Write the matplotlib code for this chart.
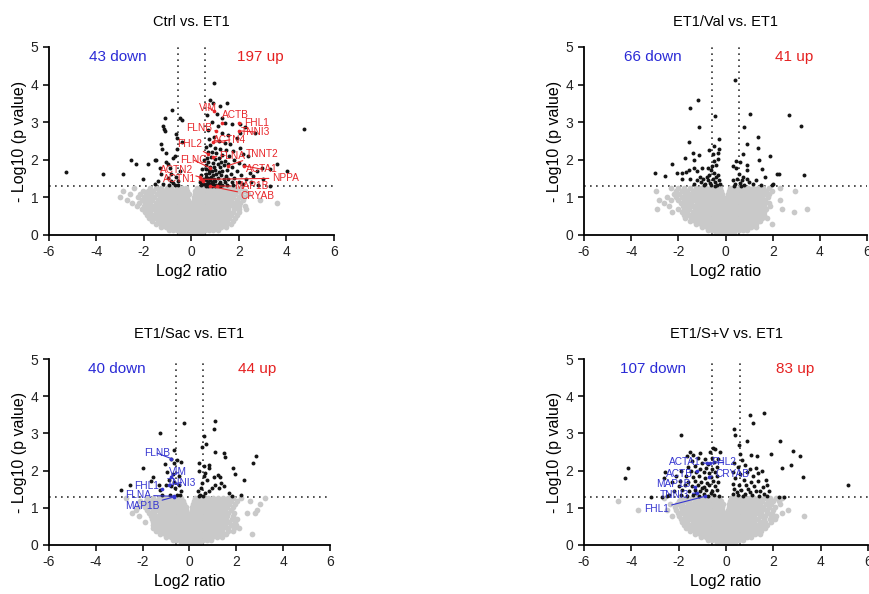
import matplotlib
matplotlib.use('Agg')
import matplotlib.pyplot as plt

# ---------------------------------------------------------------
# data: (log2 ratio, -log10 p)
# grey (not significant) points, written as rows: (y, [x, ...])
# ---------------------------------------------------------------
ctrl_grey = [
    (1.26, [-2.4, -1.75, -1.5, -1.28, -1.05, -0.85, -0.62, -0.42, -0.25, 0.22, 0.4, 0.6, 0.8, 1.0, 1.2, 1.42, 1.62, 1.85, 2.1]),
    (1.18, [-2.9, -2.05, -1.82, -1.6, -1.38, -1.15, -0.95, -0.74, -0.52, -0.33, -0.18, 0.16, 0.31, 0.5, 0.7, 0.9, 1.1, 1.31, 1.52, 1.74, 1.97, 2.25]),
    (1.10, [-2.6, -2.15, -1.92, -1.7, -1.47, -1.25, -1.04, -0.83, -0.62, -0.43, -0.26, -0.12, 0.13, 0.27, 0.44, 0.62, 0.81, 1.0, 1.2, 1.4, 1.62, 1.85, 2.08, 2.4]),
    (1.02, [-3.0, -2.25, -2.0, -1.78, -1.56, -1.34, -1.13, -0.92, -0.71, -0.52, -0.35, -0.2, 0.11, 0.24, 0.39, 0.56, 0.74, 0.93, 1.12, 1.32, 1.53, 1.75, 1.98, 2.2]),
    (0.94, [-2.7, -2.1, -1.87, -1.65, -1.43, -1.22, -1.01, -0.8, -0.6, -0.42, -0.27, -0.13, 0.09, 0.21, 0.35, 0.51, 0.68, 0.86, 1.05, 1.25, 1.46, 1.68, 1.9, 2.15, 2.9]),
    (0.86, [-2.5, -2.2, -1.95, -1.73, -1.51, -1.3, -1.09, -0.88, -0.68, -0.5, -0.34, -0.19, -0.07, 0.08, 0.2, 0.33, 0.48, 0.64, 0.82, 1.01, 1.2, 1.4, 1.62, 1.84, 2.06, 3.6]),
    (0.78, [-2.3, -2.02, -1.8, -1.58, -1.37, -1.16, -0.95, -0.75, -0.56, -0.4, -0.25, -0.12, 0.07, 0.18, 0.31, 0.45, 0.61, 0.78, 0.96, 1.15, 1.35, 1.56, 1.78, 2.0, 2.25]),
    (0.70, [-2.1, -1.88, -1.66, -1.44, -1.23, -1.02, -0.82, -0.63, -0.46, -0.31, -0.17, -0.05, 0.06, 0.17, 0.3, 0.44, 0.6, 0.77, 0.95, 1.14, 1.34, 1.55, 1.77, 1.98, 2.3]),
    (0.62, [-1.95, -1.73, -1.51, -1.3, -1.09, -0.89, -0.7, -0.52, -0.36, -0.22, -0.09, 0.04, 0.16, 0.29, 0.43, 0.59, 0.76, 0.94, 1.13, 1.33, 1.54, 1.76, 1.98]),
    (0.54, [-1.88, -1.66, -1.44, -1.23, -1.02, -0.82, -0.63, -0.46, -0.31, -0.17, -0.04, 0.08, 0.21, 0.35, 0.5, 0.67, 0.85, 1.04, 1.24, 1.45, 1.67, 1.9]),
    (0.46, [-1.8, -1.58, -1.36, -1.15, -0.95, -0.76, -0.58, -0.42, -0.27, -0.13, 0.0, 0.13, 0.27, 0.42, 0.58, 0.76, 0.95, 1.15, 1.36, 1.58, 1.82]),
    (0.38, [-1.65, -1.43, -1.22, -1.02, -0.83, -0.65, -0.48, -0.32, -0.17, -0.03, 0.11, 0.25, 0.4, 0.56, 0.73, 0.91, 1.1, 1.3, 1.51, 1.73]),
    (0.30, [-1.48, -1.27, -1.07, -0.88, -0.7, -0.53, -0.37, -0.22, -0.08, 0.06, 0.2, 0.35, 0.51, 0.68, 0.86, 1.05, 1.25, 1.46, 1.65]),
    (0.22, [-1.28, -1.08, -0.89, -0.71, -0.54, -0.38, -0.23, -0.09, 0.05, 0.19, 0.34, 0.5, 0.67, 0.85, 1.04, 1.24, 1.45]),
    (0.14, [-0.95, -0.77, -0.6, -0.44, -0.29, -0.15, -0.02, 0.11, 0.25, 0.4, 0.56, 0.73, 0.91, 1.1]),
    (0.06, [-0.48, -0.34, -0.21, -0.08, 0.05, 0.18, 0.31, 0.45]),
]

val_grey = [
    (1.26, [-2.3, -2.0, -1.75, -1.5, -1.27, -1.05, -0.84, -0.63, -0.43, -0.25, 0.2, 0.38, 0.57, 0.77, 0.97, 1.17, 1.38, 1.6, 1.85, 2.3]),
    (1.18, [-2.95, -2.1, -1.86, -1.62, -1.4, -1.18, -0.97, -0.76, -0.56, -0.38, -0.2, 0.15, 0.31, 0.49, 0.68, 0.88, 1.08, 1.29, 1.5, 1.72, 1.95, 2.96]),
    (1.10, [-2.2, -1.96, -1.73, -1.5, -1.28, -1.07, -0.86, -0.66, -0.47, -0.3, -0.14, 0.12, 0.27, 0.43, 0.61, 0.8, 0.99, 1.19, 1.4, 1.62, 1.85]),
    (1.02, [-2.5, -2.1, -1.86, -1.63, -1.41, -1.19, -0.98, -0.78, -0.58, -0.4, -0.24, -0.1, 0.1, 0.23, 0.38, 0.55, 0.73, 0.92, 1.12, 1.33, 1.55, 1.78]),
    (0.94, [-2.83, -2.3, -2.0, -1.77, -1.54, -1.32, -1.11, -0.9, -0.7, -0.51, -0.34, -0.19, -0.06, 0.08, 0.2, 0.34, 0.5, 0.67, 0.86, 1.05, 1.25, 1.46, 1.68, 2.31]),
    (0.86, [-2.6, -1.9, -1.67, -1.45, -1.23, -1.02, -0.82, -0.63, -0.45, -0.3, -0.16, -0.04, 0.07, 0.18, 0.31, 0.46, 0.62, 0.8, 0.99, 1.19, 1.4, 1.62, 1.85]),
    (0.78, [-2.4, -1.82, -1.6, -1.38, -1.17, -0.96, -0.76, -0.57, -0.4, -0.26, -0.13, -0.02, 0.09, 0.2, 0.33, 0.48, 0.65, 0.83, 1.02, 1.22, 1.43, 1.65, 1.88]),
    (0.70, [-2.9, -2.0, -1.75, -1.53, -1.31, -1.1, -0.9, -0.71, -0.53, -0.37, -0.23, -0.1, 0.02, 0.13, 0.25, 0.39, 0.55, 0.72, 0.9, 1.09, 1.29, 1.5, 1.72, 2.39, 3.46]),
    (0.62, [-2.26, -1.85, -1.62, -1.4, -1.19, -0.99, -0.8, -0.62, -0.45, -0.3, -0.16, -0.04, 0.08, 0.2, 0.33, 0.48, 0.65, 0.83, 1.02, 1.22, 1.43, 1.65, 2.89]),
    (0.54, [-1.78, -1.55, -1.33, -1.12, -0.92, -0.73, -0.55, -0.39, -0.24, -0.1, 0.03, 0.16, 0.3, 0.45, 0.62, 0.8, 0.99, 1.19, 1.4, 1.62]),
    (0.46, [-1.7, -1.47, -1.25, -1.04, -0.84, -0.65, -0.48, -0.32, -0.17, -0.04, 0.09, 0.23, 0.38, 0.55, 0.73, 0.92, 1.12, 1.33, 1.55, 1.75]),
    (0.38, [-1.5, -1.28, -1.07, -0.87, -0.68, -0.51, -0.35, -0.2, -0.06, 0.08, 0.22, 0.37, 0.53, 0.7, 0.88, 1.07, 1.27, 1.48]),
    (0.30, [-1.25, -1.04, -0.85, -0.67, -0.5, -0.34, -0.19, -0.05, 0.09, 0.23, 0.38, 0.54, 0.71, 0.89, 1.08, 1.28, 1.96]),
    (0.22, [-0.98, -0.8, -0.63, -0.47, -0.32, -0.18, -0.04, 0.1, 0.24, 0.39, 0.55, 0.72, 0.9, 1.1, 1.3]),
    (0.14, [-0.75, -0.59, -0.44, -0.3, -0.16, -0.02, 0.12, 0.26, 0.41, 0.57, 0.74, 0.92]),
    (0.06, [-0.4, -0.27, -0.14, -0.01, 0.12, 0.25, 0.38]),
]

sac_grey = [
    (1.26, [-2.7, -1.8, -1.55, -1.32, -1.1, -0.9, -0.7, -0.52, -0.35, 0.24, 0.42, 0.61, 0.8, 1.0, 1.2, 1.41, 1.63, 1.86, 2.2, 3.24]),
    (1.18, [-2.1, -1.87, -1.64, -1.42, -1.2, -0.99, -0.79, -0.6, -0.43, -0.28, 0.19, 0.35, 0.53, 0.72, 0.92, 1.12, 1.33, 1.55, 1.78, 2.05, 2.6]),
    (1.10, [-2.0, -1.77, -1.54, -1.32, -1.11, -0.9, -0.71, -0.53, -0.37, -0.22, 0.15, 0.3, 0.47, 0.65, 0.84, 1.04, 1.25, 1.47, 1.7, 1.95, 3.0]),
    (1.02, [-2.2, -1.9, -1.67, -1.45, -1.23, -1.02, -0.82, -0.63, -0.46, -0.31, -0.17, 0.12, 0.26, 0.42, 0.6, 0.79, 0.98, 1.18, 1.39, 1.61, 1.85]),
    (0.94, [-2.3, -1.8, -1.57, -1.35, -1.14, -0.93, -0.74, -0.56, -0.4, -0.26, -0.13, 0.1, 0.22, 0.37, 0.54, 0.72, 0.91, 1.1, 1.31, 1.53, 1.76, 2.88]),
    (0.86, [-2.45, -1.72, -1.5, -1.28, -1.07, -0.87, -0.68, -0.51, -0.36, -0.22, -0.09, 0.08, 0.19, 0.33, 0.49, 0.66, 0.84, 1.03, 1.23, 1.44, 1.66, 1.88, 2.45, 2.8]),
    (0.78, [-2.16, -1.65, -1.43, -1.22, -1.01, -0.82, -0.64, -0.47, -0.32, -0.19, -0.07, 0.06, 0.17, 0.3, 0.45, 0.61, 0.79, 0.98, 1.18, 1.39, 1.61, 1.84]),
    (0.70, [-1.6, -1.38, -1.17, -0.97, -0.78, -0.6, -0.44, -0.3, -0.17, -0.05, 0.06, 0.17, 0.3, 0.44, 0.6, 0.77, 0.95, 1.15, 1.36, 1.58, 1.82, 2.05]),
    (0.62, [-1.9, -1.56, -1.34, -1.13, -0.93, -0.75, -0.58, -0.42, -0.28, -0.15, -0.03, 0.09, 0.21, 0.35, 0.5, 0.67, 0.85, 1.04, 1.25, 1.47, 1.7, 1.95]),
    (0.54, [-1.55, -1.33, -1.12, -0.92, -0.73, -0.56, -0.4, -0.26, -0.13, -0.01, 0.11, 0.24, 0.38, 0.54, 0.71, 0.89, 1.09, 1.3, 1.52, 1.76, 2.0]),
    (0.46, [-1.55, -1.33, -1.11, -0.9, -0.71, -0.53, -0.37, -0.22, -0.08, 0.05, 0.18, 0.32, 0.47, 0.64, 0.82, 1.01, 1.21, 1.43, 1.66, 1.9, 2.12]),
    (0.38, [-1.45, -1.23, -1.02, -0.82, -0.63, -0.46, -0.3, -0.15, -0.01, 0.13, 0.28, 0.44, 0.61, 0.79, 0.98, 1.18, 1.4, 1.63, 1.85]),
    (0.30, [-1.25, -1.04, -0.84, -0.65, -0.48, -0.32, -0.17, -0.03, 0.11, 0.26, 0.42, 0.59, 0.77, 0.96, 1.16, 1.37, 1.58, 2.65]),
    (0.22, [-1.0, -0.81, -0.63, -0.46, -0.31, -0.16, -0.02, 0.12, 0.27, 0.43, 0.6, 0.78, 0.97, 1.17, 1.38]),
    (0.14, [-0.72, -0.56, -0.41, -0.27, -0.13, 0.0, 0.13, 0.27, 0.42, 0.58, 0.75, 0.93]),
    (0.06, [-0.35, -0.22, -0.09, 0.04, 0.17, 0.3, 0.43]),
]

sv_grey = [
    (1.26, [-2.6, -1.9, -1.67, -1.45, -1.23, -1.02, -0.82, -0.63, -0.45, -0.28, 0.22, 0.39, 0.58, 0.78, 0.98, 1.18, 1.39, 1.61, 1.84, 2.1, 2.35]),
    (1.18, [-4.57, -2.0, -1.77, -1.55, -1.33, -1.12, -0.92, -0.72, -0.53, -0.36, -0.2, 0.18, 0.33, 0.51, 0.7, 0.9, 1.1, 1.31, 1.53, 1.76, 2.0, 2.25]),
    (1.10, [-2.35, -2.08, -1.85, -1.62, -1.4, -1.19, -0.98, -0.78, -0.59, -0.42, -0.26, -0.12, 0.14, 0.28, 0.45, 0.63, 0.82, 1.02, 1.23, 1.45, 1.68, 1.92, 2.3]),
    (1.02, [-2.15, -1.92, -1.7, -1.48, -1.27, -1.06, -0.86, -0.66, -0.48, -0.32, -0.18, 0.11, 0.24, 0.4, 0.57, 0.75, 0.94, 1.14, 1.35, 1.57, 1.8, 2.05]),
    (0.94, [-3.72, -2.5, -2.1, -1.87, -1.65, -1.43, -1.22, -1.01, -0.81, -0.62, -0.45, -0.3, -0.16, 0.09, 0.21, 0.36, 0.52, 0.7, 0.89, 1.09, 1.3, 1.52, 1.75, 2.0, 2.6]),
    (0.86, [-2.05, -1.82, -1.6, -1.38, -1.17, -0.96, -0.76, -0.58, -0.42, -0.28, -0.15, -0.04, 0.08, 0.19, 0.33, 0.49, 0.67, 0.86, 1.06, 1.27, 1.49, 1.72, 1.96, 2.35]),
    (0.78, [-2.3, -1.98, -1.75, -1.53, -1.32, -1.11, -0.91, -0.72, -0.54, -0.38, -0.24, -0.12, 0.07, 0.17, 0.3, 0.45, 0.62, 0.8, 0.99, 1.2, 1.42, 1.65, 1.88, 2.1, 3.3]),
    (0.70, [-1.92, -1.7, -1.48, -1.27, -1.06, -0.86, -0.67, -0.5, -0.35, -0.21, -0.09, 0.05, 0.15, 0.28, 0.42, 0.58, 0.76, 0.95, 1.15, 1.37, 1.6, 1.84, 2.05]),
    (0.62, [-1.85, -1.63, -1.41, -1.2, -1.0, -0.81, -0.63, -0.46, -0.31, -0.18, -0.06, 0.06, 0.17, 0.3, 0.45, 0.62, 0.8, 0.99, 1.2, 1.42, 1.65, 1.9]),
    (0.54, [-1.78, -1.56, -1.35, -1.14, -0.94, -0.75, -0.57, -0.41, -0.27, -0.14, -0.02, 0.1, 0.23, 0.37, 0.53, 0.7, 0.88, 1.08, 1.29, 1.51, 1.75]),
    (0.46, [-1.68, -1.46, -1.25, -1.05, -0.86, -0.68, -0.51, -0.36, -0.22, -0.09, 0.04, 0.17, 0.31, 0.46, 0.63, 0.81, 1.0, 1.21, 1.43, 1.66]),
    (0.38, [-1.52, -1.31, -1.1, -0.91, -0.73, -0.56, -0.4, -0.25, -0.11, 0.03, 0.17, 0.32, 0.48, 0.66, 0.85, 1.05, 1.26, 1.48]),
    (0.30, [-1.3, -1.1, -0.91, -0.73, -0.56, -0.4, -0.25, -0.11, 0.03, 0.17, 0.32, 0.48, 0.65, 0.83, 1.02, 1.22, 1.42]),
    (0.22, [-1.05, -0.86, -0.68, -0.51, -0.35, -0.2, -0.06, 0.08, 0.22, 0.37, 0.53, 0.7, 0.88, 1.07]),
    (0.14, [-0.75, -0.59, -0.44, -0.3, -0.16, -0.03, 0.1, 0.24, 0.39, 0.55, 0.72]),
    (0.06, [-0.38, -0.25, -0.12, 0.01, 0.14, 0.27, 0.4]),
]

# significant (black) points
ctrl_sig = [
    (-5.28, 1.68), (-3.73, 1.61), (-2.89, 1.63), (-2.54, 1.99), (-2.35, 1.90), (-2.04, 1.48),
    (-1.83, 1.90), (-1.55, 1.99), (-1.48, 1.99), (-1.55, 1.35), (-1.41, 1.44), (-1.34, 1.79),
    (-1.27, 2.41), (-1.23, 2.28), (-1.20, 2.90), (-1.16, 2.81), (-1.13, 3.12), (-1.10, 2.77),
    (-1.08, 2.19), (-1.06, 1.95), (-0.99, 1.88), (-0.92, 1.79), (-0.87, 1.61), (-0.85, 1.44),
    (-0.80, 3.32), (-0.77, 2.06), (-0.70, 2.10), (-0.66, 2.68), (-0.63, 2.59), (-0.61, 2.28),
    (-0.56, 1.44), (-0.49, 3.12), (-0.42, 3.05), (-0.42, 2.46), (-0.49, 1.70), (-0.56, 1.32),
    (-1.00, 1.52), (-0.78, 1.38), (-1.22, 1.36), (-0.65, 1.55), (-0.70, 1.34), (-0.95, 1.33),
    (-1.30, 1.62),
    (0.96, 4.03), (0.77, 3.58), (0.89, 3.52), (1.48, 3.52), (1.20, 3.43), (1.06, 3.21),
    (1.27, 3.12), (1.41, 2.99), (2.04, 2.96), (1.69, 2.95), (2.25, 2.86), (2.68, 2.70),
    (4.72, 2.81), (2.04, 2.72), (1.90, 2.59), (1.62, 2.41), (1.76, 2.24), (2.04, 2.32),
    (2.18, 2.15), (2.39, 2.10), (3.59, 1.90), (4.01, 1.70), (3.31, 1.75), (2.96, 1.77),
    (2.75, 1.70), (2.46, 1.66), (3.31, 1.30), (0.65, 3.20), (0.85, 3.00), (1.10, 2.90),
    (0.70, 2.80), (1.30, 2.70), (0.95, 2.60), (1.55, 2.65), (0.75, 2.55), (1.15, 2.50),
    (1.40, 2.45), (0.62, 2.35), (0.80, 2.38), (0.98, 2.32), (1.20, 2.30), (1.45, 2.25),
    (0.70, 2.20), (0.88, 2.22), (1.05, 2.18), (1.30, 2.12), (1.60, 2.10), (0.65, 2.05),
    (0.82, 2.08), (1.00, 2.02), (1.15, 2.05), (1.40, 1.98), (1.80, 2.00), (0.70, 1.95),
    (0.90, 1.92), (1.10, 1.90), (1.25, 1.95), (1.55, 1.90), (2.00, 1.92), (0.62, 1.85),
    (0.78, 1.82), (0.95, 1.80), (1.20, 1.82), (1.35, 1.85), (1.70, 1.80), (2.20, 1.85),
    (0.60, 1.75), (0.72, 1.72), (0.85, 1.70), (1.00, 1.72), (1.15, 1.68), (1.30, 1.70),
    (1.50, 1.72), (1.90, 1.70), (0.62, 1.62), (0.75, 1.65), (0.90, 1.60), (1.05, 1.62),
    (1.25, 1.60), (1.45, 1.58), (1.65, 1.62), (2.10, 1.60), (2.60, 1.58), (0.60, 1.55),
    (0.70, 1.52), (0.82, 1.55), (0.95, 1.50), (1.10, 1.52), (1.35, 1.50), (1.55, 1.48),
    (1.80, 1.52), (2.30, 1.50), (3.00, 1.50), (0.60, 1.45), (0.68, 1.42), (0.78, 1.45),
    (0.88, 1.40), (1.00, 1.43), (1.20, 1.42), (1.40, 1.40), (1.70, 1.42), (2.00, 1.40),
    (2.50, 1.42), (0.60, 1.36), (0.66, 1.33), (0.74, 1.36), (0.82, 1.32), (0.92, 1.35),
    (1.05, 1.33), (1.15, 1.36), (1.30, 1.32), (1.50, 1.34), (1.75, 1.33), (2.15, 1.35),
    (2.80, 1.34), (0.62, 1.31), (0.70, 1.31), (0.86, 1.31), (1.00, 1.31), (1.22, 1.31),
    (0.35, 1.40), (0.42, 1.33), (0.48, 1.50), (0.40, 1.60), (0.50, 1.36), (0.45, 1.75),
    (0.52, 2.00), (0.38, 1.45),
]

val_sig = [
    (0.39, 4.12), (-1.16, 3.58), (-1.50, 3.39), (-0.43, 3.16), (1.03, 3.21), (2.70, 3.19),
    (3.20, 2.89), (-1.11, 2.86), (0.79, 2.87), (1.36, 2.61), (-0.26, 2.55), (-1.54, 2.46),
    (0.93, 2.43), (-0.47, 2.37), (1.36, 2.31), (-0.29, 2.28), (-0.69, 2.26), (-1.40, 2.17),
    (-1.11, 2.13), (-0.54, 2.15), (-0.30, 2.17), (0.74, 2.15), (1.89, 2.10), (-1.33, 2.00),
    (-1.71, 2.06), (1.43, 1.99), (-2.26, 1.90), (-0.47, 1.97), (-0.33, 2.01), (0.46, 1.97),
    (0.60, 1.93), (0.89, 1.85), (1.53, 1.75), (-3.01, 1.66), (-2.57, 1.57), (-2.07, 1.64),
    (-1.86, 1.66), (-1.69, 1.68), (-1.54, 1.72), (-1.33, 1.77), (-1.19, 1.70), (-1.00, 1.79),
    (-0.76, 1.79), (-0.59, 1.84), (-0.40, 1.85), (0.31, 1.84), (0.43, 1.77), (0.91, 1.72),
    (2.17, 1.63), (2.27, 1.63), (3.34, 1.60), (1.67, 1.53), (1.96, 1.32), (2.03, 1.35),
    (-1.83, 1.48), (-1.20, 1.45), (-1.05, 1.40), (-0.95, 1.50), (-0.85, 1.35), (-0.75, 1.45),
    (-0.65, 1.38), (-0.55, 1.50), (-0.45, 1.40), (-0.35, 1.33), (-0.28, 1.45), (-1.35, 1.35),
    (-0.90, 1.32), (-0.60, 1.32), (-0.40, 1.55), (-0.70, 1.60), (-1.10, 1.55), (-0.50, 1.65),
    (-0.30, 1.60), (-0.80, 1.55), (-0.22, 1.36), (-1.50, 1.50), (-0.62, 1.72), (-0.45, 1.30),
    (0.30, 1.45), (0.40, 1.35), (0.50, 1.50), (0.60, 1.38), (0.70, 1.45), (0.80, 1.33),
    (0.90, 1.50), (1.00, 1.40), (1.15, 1.35), (1.30, 1.45), (0.55, 1.62), (0.75, 1.55),
    (0.35, 1.30), (1.50, 1.32), (0.65, 1.30),
]

sac_sig = [
    (-0.24, 3.29), (1.07, 3.33), (1.04, 3.12), (-1.26, 3.00), (0.61, 2.93), (0.54, 2.64),
    (0.71, 2.71), (1.08, 2.51), (1.46, 2.47), (1.53, 2.36), (2.84, 2.38), (2.71, 2.20),
    (-0.67, 2.56), (-0.81, 2.31), (-0.53, 2.29), (-0.38, 2.24), (-1.05, 2.18), (-0.64, 2.20),
    (-1.97, 2.07), (0.40, 2.20), (0.61, 2.13), (0.82, 2.15), (0.85, 2.07), (1.86, 2.08),
    (1.93, 1.91), (2.32, 1.75), (1.21, 1.87), (1.32, 1.84), (1.04, 1.84), (0.61, 1.86),
    (0.68, 1.93), (0.40, 1.98), (-1.56, 1.84), (-1.63, 1.73), (-2.56, 1.62), (-2.94, 1.49),
    (-1.31, 1.62), (-1.24, 1.49), (-0.88, 1.75), (-0.77, 1.58), (-0.60, 1.53), (-0.45, 1.62),
    (-0.38, 1.44), (-0.53, 1.35), (-0.84, 1.35), (-1.16, 1.35), (0.54, 1.67), (0.51, 1.53),
    (0.37, 1.44), (0.47, 1.35), (0.65, 1.40), (0.82, 1.44), (1.11, 1.62), (1.36, 1.67),
    (1.46, 1.58), (1.68, 1.40), (1.82, 1.31), (2.20, 1.35), (1.25, 1.53), (0.97, 1.53),
    (0.75, 1.75), (-0.95, 1.95), (-0.70, 1.90), (-0.45, 1.85), (-1.00, 1.60), (-0.65, 1.70),
    (-0.42, 1.34), (0.40, 1.32), (0.58, 1.31),
]

sv_sig = [
    (-1.90, 2.97), (-0.55, 2.62), (-0.45, 2.57), (-0.27, 2.51), (-0.67, 2.51), (-1.09, 2.47),
    (-1.52, 2.49), (-1.38, 2.42), (-1.66, 2.40), (-4.14, 2.08), (-4.28, 1.80), (-2.58, 1.95),
    (-2.62, 1.80), (-3.18, 1.29), (-2.70, 1.30), (-2.40, 1.35),
    (-1.20, 2.35), (-0.90, 2.30), (-0.60, 2.35), (-0.35, 2.30), (-1.45, 2.25), (-1.00, 2.20),
    (-0.75, 2.18), (-0.50, 2.22), (-1.60, 2.10), (-1.30, 2.12), (-1.10, 2.05), (-0.85, 2.08),
    (-0.60, 2.05), (-0.40, 2.10), (-1.90, 2.00), (-1.50, 1.98), (-1.25, 1.95), (-0.95, 1.97),
    (-0.70, 1.93), (-0.45, 1.95), (-2.10, 1.85), (-1.70, 1.85), (-1.40, 1.82), (-1.15, 1.85),
    (-0.90, 1.80), (-0.65, 1.82), (-0.40, 1.85), (-2.30, 1.70), (-1.95, 1.72), (-1.60, 1.70),
    (-1.30, 1.72), (-1.05, 1.70), (-0.80, 1.68), (-0.55, 1.72), (-0.35, 1.70), (-2.00, 1.58),
    (-1.75, 1.60), (-1.45, 1.58), (-1.20, 1.60), (-0.95, 1.57), (-0.70, 1.60), (-0.45, 1.58),
    (-2.20, 1.45), (-1.85, 1.48), (-1.55, 1.45), (-1.30, 1.47), (-1.10, 1.45), (-0.85, 1.48),
    (-0.60, 1.45), (-0.38, 1.47), (-2.50, 1.33), (-1.90, 1.35), (-1.65, 1.33), (-1.40, 1.35),
    (-1.15, 1.33), (-0.95, 1.36), (-0.75, 1.33), (-0.50, 1.35), (-0.30, 1.33), (-1.00, 1.52),
    (-0.65, 1.40), (-1.25, 1.40),
    (1.60, 3.56), (1.01, 3.49), (1.13, 3.27), (0.34, 3.13), (0.40, 2.96), (0.54, 2.69),
    (0.87, 2.80), (2.28, 2.80), (2.85, 2.54), (3.13, 2.38), (1.91, 2.45), (1.29, 2.38),
    (0.61, 2.44), (1.04, 2.42), (0.68, 2.29), (2.38, 2.07), (2.74, 2.15), (3.26, 1.83),
    (5.15, 1.62), (1.25, 2.07), (1.36, 1.93), (1.53, 1.98), (1.67, 1.75), (1.74, 1.62),
    (1.82, 1.44), (2.24, 1.29), (2.45, 1.29),
    (0.35, 2.20), (0.50, 2.10), (0.80, 2.15), (1.00, 2.05), (0.30, 1.95), (0.60, 1.90),
    (0.90, 1.95), (1.15, 1.85), (0.40, 1.80), (0.75, 1.75), (1.05, 1.70), (1.35, 1.72),
    (1.55, 1.55), (0.30, 1.65), (0.55, 1.62), (0.85, 1.60), (1.20, 1.58), (1.45, 1.45),
    (0.35, 1.50), (0.65, 1.48), (0.95, 1.50), (1.25, 1.45), (1.60, 1.38), (0.30, 1.38),
    (0.50, 1.35), (0.80, 1.38), (1.10, 1.35), (1.40, 1.33), (1.75, 1.32), (0.45, 1.42),
    (0.70, 1.32), (1.00, 1.42),
]

# labelled proteins: (name, text x, text y, point x, point y)
ctrl_labels = [
    ('VIM', 0.70, 3.39, 0.95, 3.30), ('ACTB', 1.83, 3.19, 1.27, 2.97),
    ('FHL1', 2.75, 2.97, 2.01, 2.97), ('TNNI3', 2.68, 2.74, 2.00, 2.77),
    ('FLNB', 0.32, 2.84, 1.03, 2.77), ('ACTN4', 1.62, 2.53, 0.89, 2.46),
    ('FHL2', -0.07, 2.43, 0.70, 2.15), ('FLNA', 1.73, 2.10, 0.92, 2.08),
    ('TNNT2', 2.96, 2.15, 1.52, 1.84), ('FLNC', 0.10, 1.99, 0.77, 1.79),
    ('ACTA1', 2.96, 1.75, 2.21, 1.84), ('ACTN2', -0.63, 1.72, 0.35, 1.54),
    ('NPPA', 3.94, 1.51, 0.42, 1.48), ('ACTN1', -0.49, 1.50, 0.49, 1.44),
    ('MAP1B', 2.51, 1.30, 1.06, 1.30), ('CRYAB', 2.77, 1.04, 0.77, 1.30),
]
val_labels = []
sac_labels = [
    ('FLNB', -1.38, 2.47, -0.77, 2.32), ('VIM', -0.48, 1.95, -0.81, 1.84),
    ('TNNI3', -0.34, 1.68, -0.88, 1.62), ('FHL1', -1.83, 1.59, -1.16, 1.50),
    ('FLNA', -2.20, 1.34, -0.67, 1.31), ('MAP1B', -2.02, 1.06, -0.67, 1.29),
]
sv_labels = [
    ('ACTA1', -1.76, 2.22, -0.81, 2.20), ('FHL2', -0.10, 2.22, -0.67, 2.20),
    ('ACTB', -1.97, 1.91, -1.21, 1.98), ('CRYAB', 0.26, 1.91, -0.74, 1.84),
    ('MAP1B', -2.23, 1.65, -1.30, 1.56), ('TNNI3', -2.16, 1.35, -1.23, 1.40),
    ('FHL1', -2.94, 0.97, -0.88, 1.31),
]

titles = ['Ctrl vs. ET1', 'ET1/Val vs. ET1', 'ET1/Sac vs. ET1', 'ET1/S+V vs. ET1']
down_counts = [43, 66, 40, 107]
up_counts = [197, 41, 44, 83]

RED = '#e8262a'
BLUE = '#3535d0'
GREY = '#c9c9c9'


def draw_panel(ax, grey_rows, sig, labels, label_color, title, n_down, n_up):
    gx = [x for y, xs in grey_rows for x in xs]
    gy = [y for y, xs in grey_rows for x in xs]
    ax.scatter(gx, gy, s=17, color=GREY, linewidths=0, zorder=2)

    ax.axhline(1.3, color='#333333', lw=1.2, ls=(0, (1, 2.6)), zorder=1)
    for xv in (-0.585, 0.585):
        ax.axvline(xv, color='#333333', lw=1.2, ls=(0, (1, 2.6)), zorder=1)

    sx, sy = zip(*sig)
    ax.scatter(sx, sy, s=8, color='#151515', linewidths=0, zorder=3)

    for name, tx, ty, px, py in labels:
        ax.scatter([px], [py], s=7, color=label_color, linewidths=0, zorder=4)
        ax.annotate(name, xy=(px, py), xytext=(tx, ty), ha='center', va='center',
                    fontsize=7.3, color=label_color, zorder=5,
                    arrowprops=dict(arrowstyle='-', color=label_color, lw=0.8,
                                    shrinkA=0, shrinkB=0))

    ax.text(-3.1, 4.73, f'{n_down} down', color='#2b2bd6', fontsize=11,
            ha='center', va='center')
    ax.text(2.9, 4.73, f'{n_up} up', color='#e52222', fontsize=11,
            ha='center', va='center')

    ax.set_xlim(-6, 6)
    ax.set_ylim(0, 5)
    ax.set_xticks([-6, -4, -2, 0, 2, 4, 6])
    ax.set_yticks([0, 1, 2, 3, 4, 5])
    for side in ('top', 'right'):
        ax.spines[side].set_visible(False)
    for side in ('left', 'bottom'):
        ax.spines[side].set_linewidth(1.3)
    ax.tick_params(width=1.3, length=4.5, labelsize=10, colors='#222222', pad=3)
    ax.set_xlabel('Log2 ratio', fontsize=11.5, labelpad=3)
    ax.set_ylabel('- Log10 (p value)', fontsize=11.5, labelpad=3)
    ax.set_title(title, fontsize=10.5, pad=15)


plt.rcParams['font.family'] = ['Liberation Sans', 'DejaVu Sans']
plt.rcParams['axes.unicode_minus'] = False

fig = plt.figure(figsize=(8.7, 5.94), dpi=100)
boxes = [
    [0.0563, 0.6044, 0.3276, 0.3165],
    [0.6713, 0.6044, 0.3253, 0.3165],
    [0.0563, 0.0825, 0.3230, 0.3131],
    [0.6713, 0.0825, 0.3264, 0.3131],
]
greys = [ctrl_grey, val_grey, sac_grey, sv_grey]
sigs = [ctrl_sig, val_sig, sac_sig, sv_sig]
labs = [ctrl_labels, val_labels, sac_labels, sv_labels]
lab_colors = [RED, RED, BLUE, BLUE]

for i in range(4):
    ax = fig.add_axes(boxes[i])
    draw_panel(ax, greys[i], sigs[i], labs[i], lab_colors[i], titles[i],
               down_counts[i], up_counts[i])

fig.savefig('out.png', dpi=100)
